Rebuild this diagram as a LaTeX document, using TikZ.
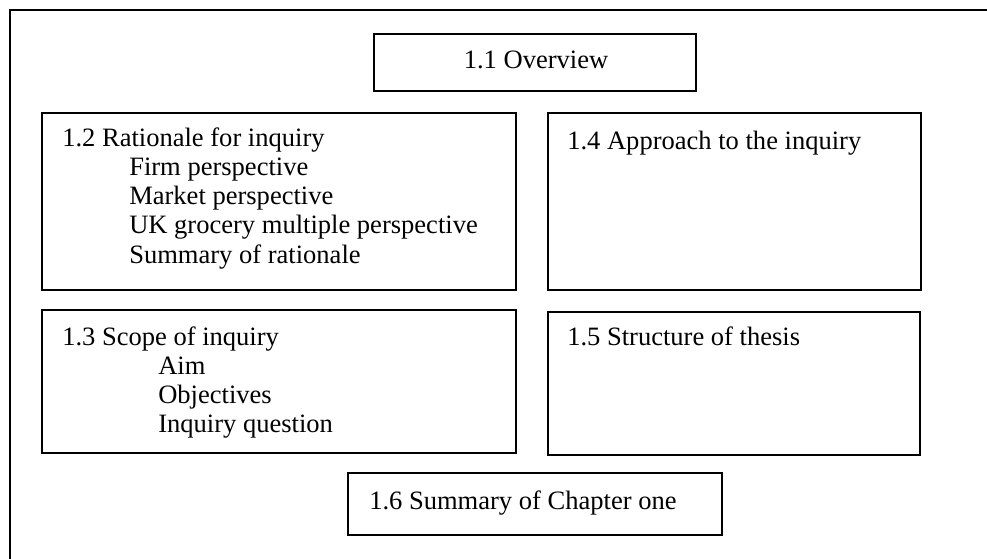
\documentclass[tikz,border=0pt]{standalone}
\usepackage{fontspec}
\setmainfont{Liberation Serif}
\usetikzlibrary{fit}
\begin{document}
\begin{tikzpicture}[x=0.75pt,y=-0.75pt,
  box/.style={draw, line width=1pt, inner sep=0pt},
  frame/.style={draw, line width=1pt},
  txt/.style={inner sep=0pt, anchor=base west, font=\fontsize{19.9}{21.75}\selectfont},
  ctxt/.style={txt, anchor=base}]
  \useasboundingbox (0,0) rectangle (987,559);
  \fill[white] (0,0) rectangle (987,559);

  % outer frame, running off the right and bottom edges
  \draw[frame] (990,10) -- (10,10) -- (10,562);

  % section boxes
  \node[box, fit={(374,34) (696,91)}] (b11) {};
  \node[box, fit={(42,113) (516,290)}] (b12) {};
  \node[box, fit={(548,113) (921,290)}] (b14) {};
  \node[box, fit={(42,310) (516,453)}] (b13) {};
  \node[box, fit={(548,312) (920,455)}] (b15) {};
  \node[box, fit={(348,473) (722,535)}] (b16) {};

  % 1.1
  \node[ctxt] (t11) at (536,69) {1.1 Overview};

  % 1.2
  \node[txt] (t12) at (62,147) {1.2 Rationale for inquiry};
  \node[txt] (t12a) at (129,176) {Firm perspective};
  \node[txt] (t12b) at (129,205) {Market perspective};
  \node[txt] (t12c) at (129,234) {UK grocery multiple perspective};
  \node[txt] (t12d) at (129,263) {Summary of rationale};

  % 1.4
  \node[txt] (t14) at (567,150) {1.4 Approach to the inquiry};

  % 1.3
  \node[txt] (t13) at (62,345) {1.3 Scope of inquiry};
  \node[txt] (t13a) at (158,374) {Aim};
  \node[txt] (t13b) at (158,403) {Objectives};
  \node[txt] (t13c) at (158,432) {Inquiry question};

  % 1.5
  \node[txt] (t15) at (567,345) {1.5 Structure of thesis};

  % 1.6
  \node[txt] (t16) at (369,509) {1.6 Summary of Chapter one};
\end{tikzpicture}
\end{document}
